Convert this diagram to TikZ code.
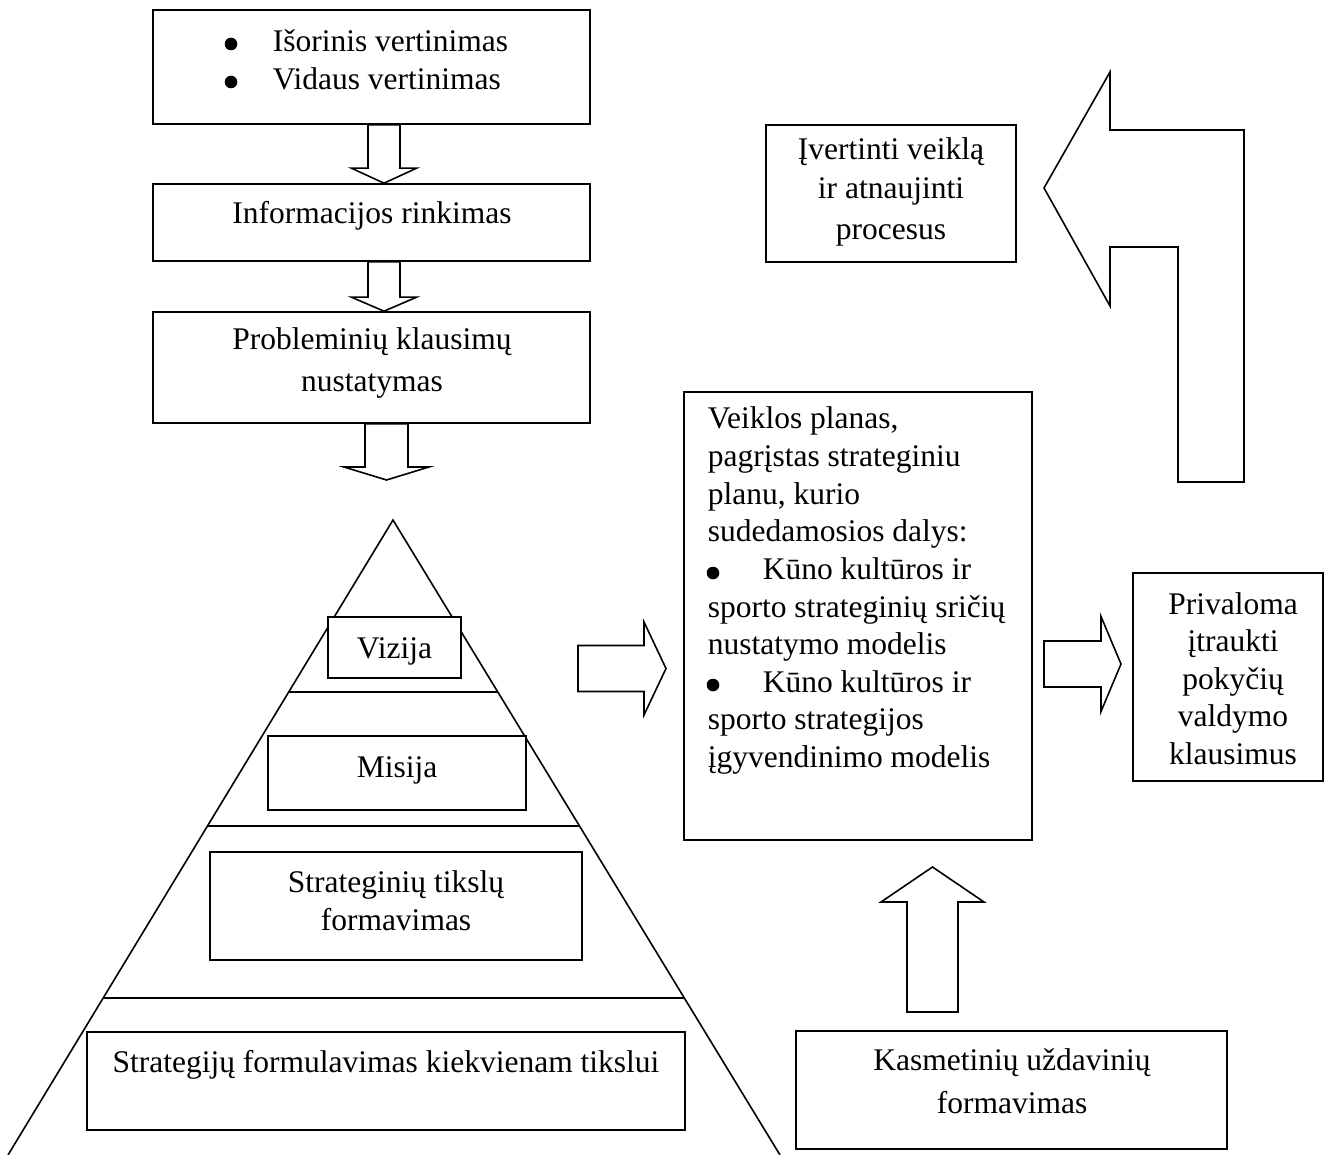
\documentclass[tikz,border=0pt]{standalone}
\usepackage{fontspec}
\setmainfont{Liberation Serif}
\usetikzlibrary{calc}

% block arrows: start point, tip, shaft half-width, head half-width, head length
\newcommand\downblock[5]{%
  \draw[blk] let \p1=(#1), \p2=(#2) in
    ({\x1-#3pt},\y1) -- ({\x1-#3pt},{\y2+#5pt}) -- ({\x1-#4pt},{\y2+#5pt}) -- (\x1,\y2)
    -- ({\x1+#4pt},{\y2+#5pt}) -- ({\x1+#3pt},{\y2+#5pt}) -- ({\x1+#3pt},\y1) -- cycle;}
\newcommand\upblock[5]{%
  \draw[blk] let \p1=(#1), \p2=(#2) in
    ({\x1-#3pt},\y1) -- ({\x1-#3pt},{\y2-#5pt}) -- ({\x1-#4pt},{\y2-#5pt}) -- (\x1,\y2)
    -- ({\x1+#4pt},{\y2-#5pt}) -- ({\x1+#3pt},{\y2-#5pt}) -- ({\x1+#3pt},\y1) -- cycle;}
\newcommand\rightblock[5]{%
  \draw[blk] let \p1=(#1), \p2=(#2) in
    (\x1,{\y1+#3pt}) -- ({\x2-#5pt},{\y1+#3pt}) -- ({\x2-#5pt},{\y1+#4pt}) -- (\x2,\y1)
    -- ({\x2-#5pt},{\y1-#4pt}) -- ({\x2-#5pt},{\y1-#3pt}) -- (\x1,{\y1-#3pt}) -- cycle;}

\begin{document}
\begin{tikzpicture}[x=1pt,y=-1pt,line width=1.6pt,line join=miter,
  box/.style={draw,fill=white,inner sep=0pt},
  txt/.style={inner sep=0pt,anchor=base,font=\fontsize{31.5}{37.5}\selectfont},
  txtl/.style={txt,anchor=base west},
  blk/.style={draw,fill=white,line join=miter},
  dot/.style={fill=black,draw=none}]
\useasboundingbox (0,0) rectangle (1331,1155);

% pyramid
\coordinate (apex) at (393,520);
\coordinate (baseL) at (8,1155);
\coordinate (baseR) at (780,1155);
\draw (baseL) -- (apex) -- (baseR);
\draw ($(apex)!0.2709!(baseL)$) -- ($(apex)!0.2709!(baseR)$);
\draw ($(apex)!0.4819!(baseL)$) -- ($(apex)!0.4819!(baseR)$);
\draw ($(apex)!0.7528!(baseL)$) -- ($(apex)!0.7528!(baseR)$);

% boxes
\node[box,minimum width=437,minimum height=114] (eval)   at (371.5,67) {};
\node[box,minimum width=437,minimum height=77]  (info)   at (371.5,222.5) {};
\node[box,minimum width=437,minimum height=111] (prob)   at (371.5,367.5) {};
\node[box,minimum width=133,minimum height=61]  (vizija) at (394.5,647.5) {};
\node[box,minimum width=258,minimum height=74]  (misija) at (397,773) {};
\node[box,minimum width=372,minimum height=108] (tikslai) at (396,906) {};
\node[box,minimum width=598,minimum height=98]  (strat)  at (386,1081) {};
\node[box,minimum width=348,minimum height=448] (plan)   at (858,616) {};
\node[box,minimum width=190,minimum height=208] (priv)   at (1228,677) {};
\node[box,minimum width=250,minimum height=137] (ivert)  at (891,193.5) {};
\node[box,minimum width=431,minimum height=118] (kasm)   at (1011.5,1090) {};

% arrows
\coordinate (colA) at (384,0);
\coordinate (colB) at (386.5,0);
\coordinate (a3tip) at (386.5,480);
\downblock{colA |- eval.south}{colA |- info.north}{16}{32.5}{15}
\downblock{colA |- info.south}{colA |- prob.north}{16}{32.5}{14}
\downblock{colB |- prob.south}{a3tip}{21.5}{42.5}{13}

\coordinate (c1s) at (578,668.5);
\coordinate (c1t) at (666,668.5);
\rightblock{c1s}{c1t}{23}{46.5}{22}
\coordinate (c2s) at (1044,664);
\coordinate (c2t) at (1121,664);
\rightblock{c2s}{c2t}{23}{47.5}{20}
\coordinate (u1s) at (932.5,1012);
\coordinate (u1t) at (932.5,867);
\upblock{u1s}{u1t}{25.5}{51.5}{35}

% bent feedback arrow
\coordinate (fbtip) at (1044,188);
\coordinate (fbend) at (1244,482);
\draw[blk] (fbtip) -- (1110,72) -- (1110,130) -- (fbend |- 0,130) -- (fbend)
  -- (1178,482) -- (1178,247) -- (1110,247) -- (1110,306) -- cycle;

% list bullets
\fill[dot] (231,44) circle (6.3);
\fill[dot] (231,82) circle (6.3);
\fill[dot] (713,573) circle (6.3);
\fill[dot] (713,685) circle (6.3);

% texts
\node[txtl] (e1) at (272,52) {Išorinis vertinimas};
\node[txtl] (e2) at (272,90) {Vidaus vertinimas};
\node[txt] (t-info) at (372,224) {Informacijos rinkimas};
\node[txt] (t-prob1) at (372,350) {Probleminių klausimų};
\node[txt] (t-prob2) at (372,392) {nustatymas};
\node[txt] (t-viz) at (394.5,658) {Vizija};
\node[txt] (t-mis) at (397,777) {Misija};
\node[txt] (t-tik1) at (396,892) {Strateginių tikslų};
\node[txt] (t-tik2) at (396,930) {formavimas};
\node[txt] (t-str) at (386,1072) {Strategijų formulavimas kiekvienam tikslui};
\node[txt] (t-kas1) at (1012,1070) {Kasmetinių uždavinių};
\node[txt] (t-kas2) at (1012,1113) {formavimas};
\node[txt] (t-iv1) at (891,160) {Įvertinti veiklą};
\node[txt] (t-iv2) at (891,199) {ir atnaujinti};
\node[txt] (t-iv3) at (891,240) {procesus};
\foreach \t [count=\i] in {Privaloma,įtraukti,pokyčių,valdymo,klausimus}
  \node[txt] (t-priv\i) at (1233,{614+37.5*(\i-1)}) {\t};
\foreach \t [count=\i] in {{Veiklos planas,},{pagrįstas strateginiu},{planu, kurio},
    {sudedamosios dalys:},{\hspace*{55pt}Kūno kultūros ir},
    {sporto strateginių sričių},{nustatymo modelis},
    {\hspace*{55pt}Kūno kultūros ir},{sporto strategijos},
    {įgyvendinimo modelis}}
  \node[txtl] (t-plan\i) at (707,{429+37.6*(\i-1)}) {\t};
\end{tikzpicture}
\end{document}
